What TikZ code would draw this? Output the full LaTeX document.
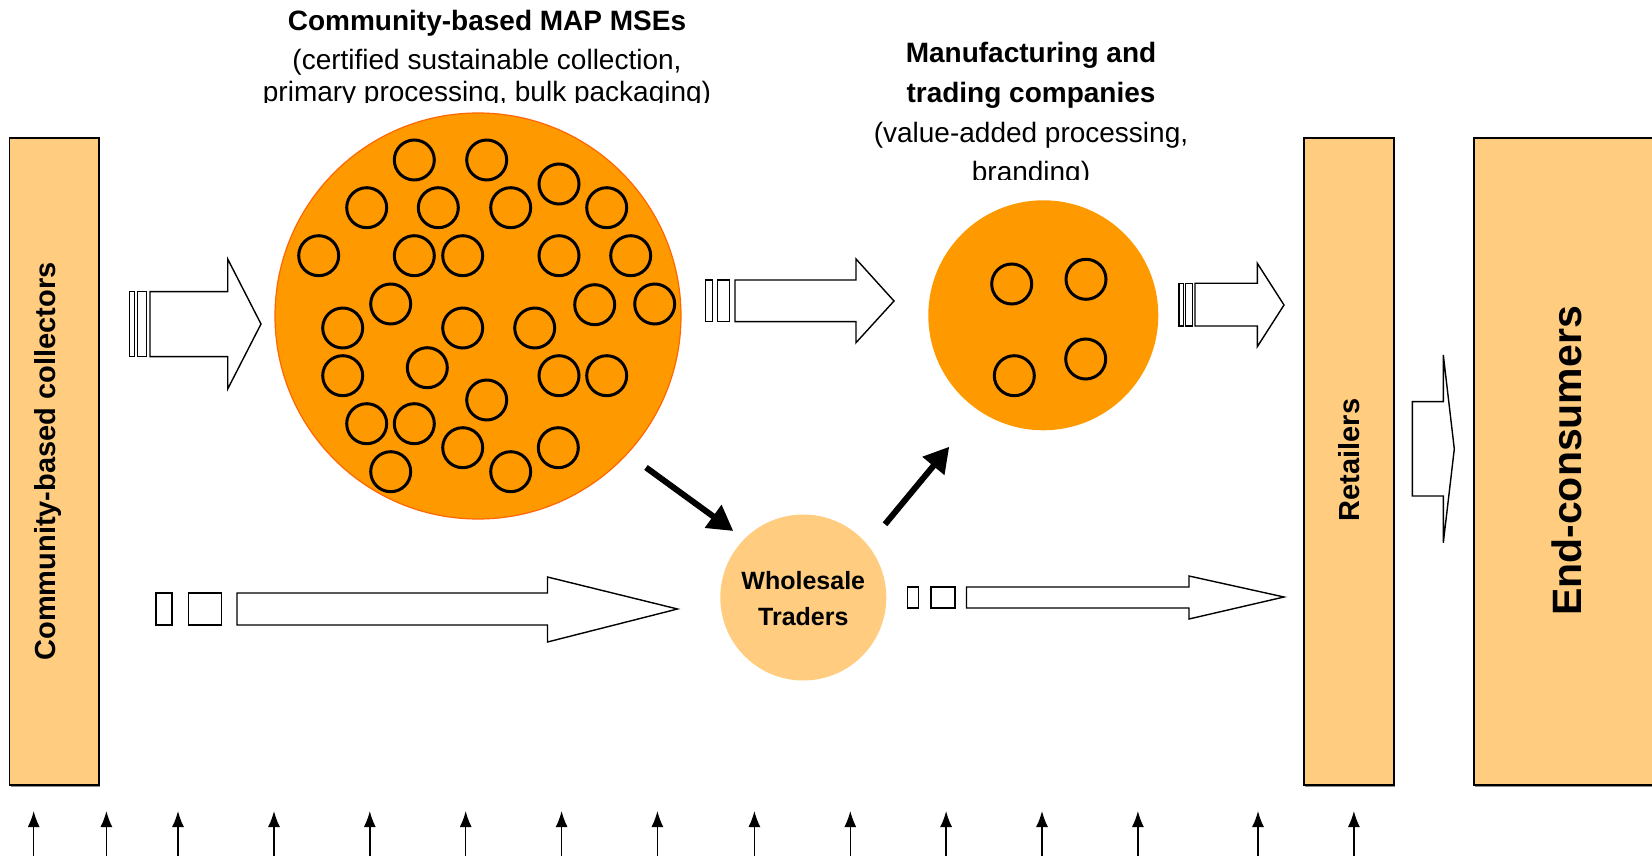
\documentclass[tikz,border=0pt]{standalone}
\usepackage{fontspec}
\setmainfont{Liberation Sans}
\usetikzlibrary{arrows.meta,shadows}
\definecolor{coreorange}{HTML}{FF9900}
\definecolor{rimorange}{HTML}{FF6600}
\definecolor{paleorange}{HTML}{FFCC80}
% hollow block arrow: body start x, body top, body bottom, head x, head top, head bottom, tip x, tip y
\newcommand\hollowarrow[8]{%
  \draw[blockarrow] (#1,#2) -- (#4,#2) -- (#4,#5) -- (#7,#8) -- (#4,#6) -- (#4,#3) -- (#1,#3) -- cycle;}
\begin{document}
\begin{tikzpicture}[x=1pt,y=-1pt,
  bar/.style={draw=black, line width=1.4pt, fill=paleorange, inner sep=0pt,
    drop shadow={shadow xshift=1pt, shadow yshift=-2pt, opacity=0.45, fill=black}},
  bartext/.style={font=\fontsize{29}{34}\selectfont\bfseries, rotate=90, anchor=base, inner sep=0pt},
  headbold/.style={font=\fontsize{28}{34}\selectfont\bfseries, anchor=base, inner sep=0pt},
  headplain/.style={font=\fontsize{28}{34}\selectfont, anchor=base, inner sep=0pt},
  member/.style={draw=black, line width=3pt},
  blockarrow/.style={draw=black, line width=1.4pt, fill=white, line join=miter},
  flow/.style={line width=6pt, -{Triangle[length=25pt,width=27pt]}},
  tick/.style={line width=1.5pt, -{Latex[length=16pt,width=12pt]}}]
\useasboundingbox (0,0) rectangle (1652,858);

% vertical actor bars
\node[bar, minimum width=89.5pt, minimum height=647pt] (collectors) at (54.25,461.5) {};
\node[bar, minimum width=90pt, minimum height=647pt] (retailers) at (1349,461.5) {};
\node[bar, minimum width=182pt, minimum height=647pt] (consumers) at (1565,461.5) {};
\node[bartext] at (55.5,461.5) {Community-based collectors};
\node[bartext] at (1359,460) {Retailers};
\node[bartext, font=\fontsize{41}{46}\selectfont\bfseries] at (1581,461) {End-consumers};

% community-based MSEs
\node[circle, fill=coreorange, draw=rimorange, line width=1.2pt, minimum size=406pt, inner sep=0pt] (mse) at (478,316) {};
\foreach \cx/\cy in {414.3/160, 486.7/160, 559/184,
  366.7/207.7, 438.3/207.7, 510.7/207.7, 606.7/207.7,
  318.7/255.7, 414.3/255.7, 462.7/255.7, 559/255.7, 630.7/255.7,
  390.7/304, 594.7/304.7, 654.7/304,
  342.7/328, 462.7/328, 534.7/328,
  342.7/375.7, 427.3/367.7, 559/375.7, 606.7/375.7,
  486.7/400, 366.7/423.7, 414.3/423.7,
  462.7/447.7, 558.3/447.7, 390.7/471.7, 510.7/471.7}
  \draw[member] (\cx,\cy) circle[radius=20];

% manufacturing and trading companies
\node[circle, fill=coreorange, minimum size=230pt, inner sep=0pt] (mfg) at (1043.3,315.3) {};
\foreach \cx/\cy in {1011.7/284, 1086/279.3, 1014.3/375.7, 1085.7/359}
  \draw[member] (\cx,\cy) circle[radius=20];

% wholesale traders
\node[circle, fill=paleorange, minimum size=166pt, inner sep=0pt] (wholesale) at (803.3,597.5) {};
\node[headbold, font=\fontsize{25}{30}\selectfont\bfseries] at (wholesale.center |- 0,589) {Wholesale};
\node[headbold, font=\fontsize{25}{30}\selectfont\bfseries] at (wholesale.center |- 0,625.5) {Traders};

% headings
\node[headbold] at (487,31) {Community-based MAP MSEs};
\node[headplain] at (487,70) {(certified sustainable collection,};
\begin{scope}
  \clip (150,75) rectangle (820,102.5);
  \node[headplain] at (487,102) {primary processing, bulk packaging)};
\end{scope}
\node[headbold] at (1031,63) {Manufacturing and};
\node[headbold] at (1031,103) {trading companies};
\node[headplain] at (1031,143) {(value-added processing,};
\begin{scope}
  \clip (850,150) rectangle (1220,180);
  \node[headplain] at (1031,182) {branding)};
\end{scope}

% hollow product-flow arrows
\draw[blockarrow] (129.3,291.7) rectangle (134.3,356.7);
\draw[blockarrow] (137.7,291.7) rectangle (146.7,356.7);
\hollowarrow{150}{291.7}{356.7}{227.7}{259}{389}{261}{324}

\draw[blockarrow] (705.7,280) rectangle (712.3,321.7);
\draw[blockarrow] (717.3,280) rectangle (729.3,321.7);
\hollowarrow{735}{280}{321.7}{856}{259}{342.7}{894}{301}

\draw[blockarrow] (1179,283.3) rectangle (1183.3,326);
\draw[blockarrow] (1185.7,283.3) rectangle (1192.3,326);
\hollowarrow{1195}{283.3}{326}{1257.3}{263.3}{346.7}{1284}{305}

\hollowarrow{1412.3}{401.7}{496}{1443.3}{355}{542.7}{1454.3}{449}

\draw[blockarrow] (156,593) rectangle (172,625);
\draw[blockarrow] (188.5,593) rectangle (221.5,625);
\hollowarrow{237}{593}{625}{547.5}{577}{642}{677.5}{609}

\draw[blockarrow] (907.5,587) rectangle (918.5,608);
\draw[blockarrow] (931,587) rectangle (955,608);
\hollowarrow{966.5}{587}{608}{1189}{576}{619}{1284}{597}

% trader links
\coordinate (toTraderS) at (646,467.5);
\coordinate (toTraderE) at (733.3,531);
\coordinate (toMfgS) at (885,524.3);
\coordinate (toMfgE) at (949.3,446.7);
\draw[flow] (toTraderS) -- (toTraderE);
\draw[flow] (toMfgS) -- (toMfgE);

% supporting arrows along the base
\foreach \x in {33.7, 106.4, 178, 274, 369.8, 465.7, 561.6, 657.4, 754.4, 850.3, 946.1, 1042, 1137.9, 1258, 1353.9}
  \draw[tick] (\x,856) -- (\x,811);
\end{tikzpicture}
\end{document}
